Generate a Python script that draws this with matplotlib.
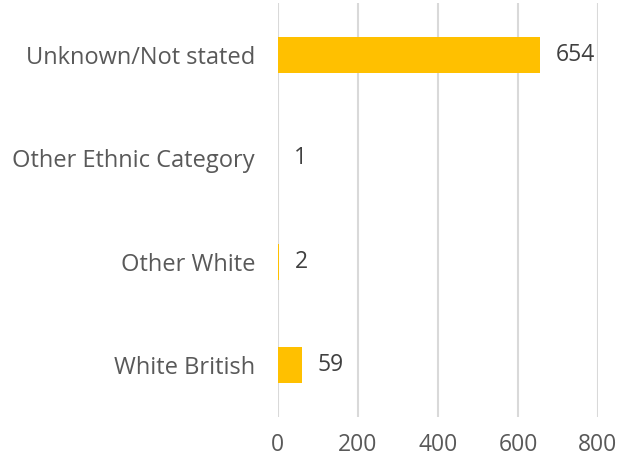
import matplotlib
matplotlib.use("Agg")
import matplotlib.pyplot as plt

categories = ["White British", "Other White", "Other Ethnic Category", "Unknown/Not stated"]
values = [59, 2, 1, 654]
xticks = [0, 200, 400, 600, 800]

plt.rcParams['font.family'] = ['Open Sans', 'DejaVu Sans']

fig = plt.figure(figsize=(6.19, 4.59), dpi=100)
ax = fig.add_axes([0.449, 0.092, 0.517, 0.901])

pos = range(len(categories))
ax.barh(pos, values, height=0.35, color="#FFC000", zorder=3)

for p, v in zip(pos, values):
    ax.text(v + 40, p, str(v), va="center", ha="left", fontsize=16.5, color="#404040")

ax.set_xlim(0, 800)
ax.set_ylim(-0.5, len(categories) - 0.5)
ax.set_xticks(xticks)
ax.set_xticklabels([str(t) for t in xticks])
ax.set_yticks(list(pos))
ax.set_yticklabels(categories)
ax.tick_params(axis="both", length=0, labelcolor="#595959")
ax.tick_params(axis="x", pad=12, labelsize=16.5)
ax.tick_params(axis="y", pad=16.5, labelsize=17)
ax.grid(axis="x", color="#D9D9D9", linewidth=1.5, zorder=0)
for s in ax.spines.values():
    s.set_visible(False)

fig.savefig("out.png", dpi=100, facecolor="white")
